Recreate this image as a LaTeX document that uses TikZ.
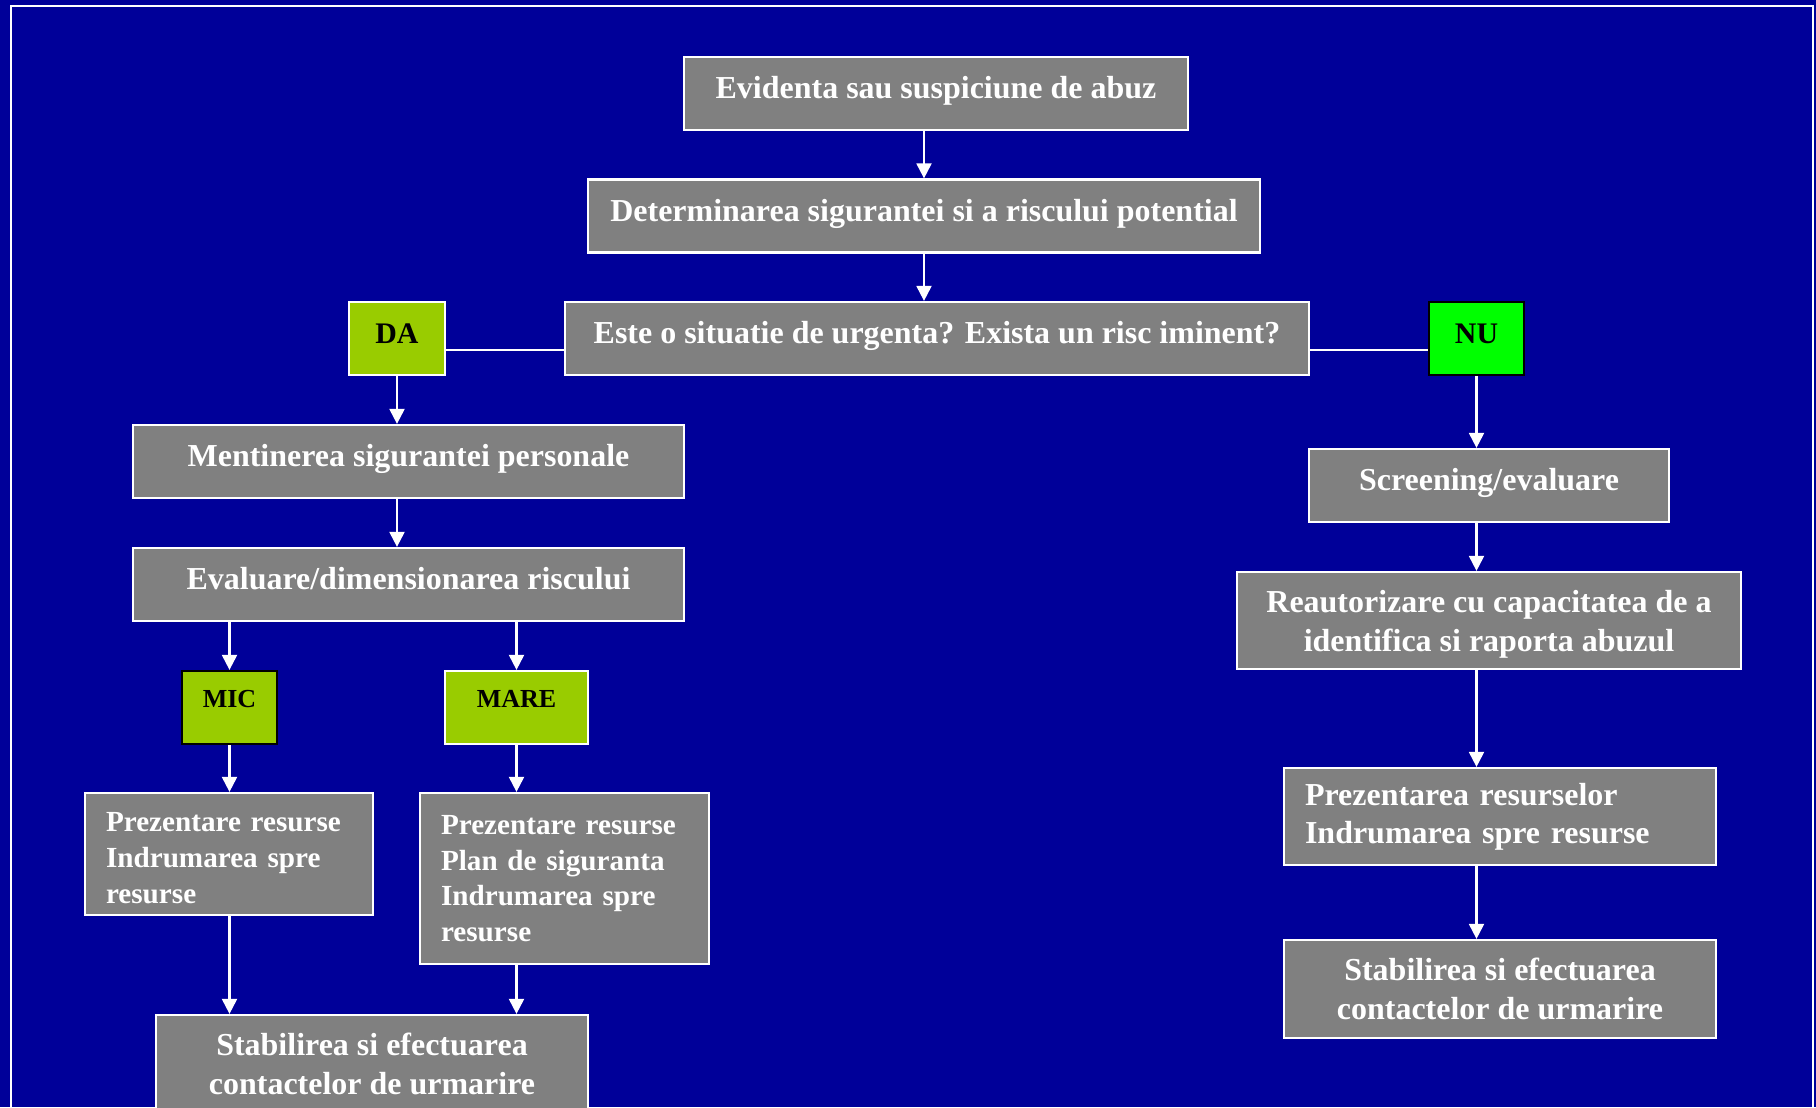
\documentclass[tikz,border=0pt]{standalone}
\usepackage{fontspec}
\setmainfont{Liberation Serif}
\usetikzlibrary{arrows.meta}
\definecolor{fundal}{HTML}{000099}
\definecolor{gri}{HTML}{808080}
\definecolor{verde}{HTML}{99CC00}
\definecolor{verdeviu}{HTML}{00FF00}

\begin{document}
\begin{tikzpicture}[x=0.02cm, y=-0.02cm,
  cutie/.style={draw=white, line width=1.3pt, fill=gri, text=white, inner sep=0pt,
    minimum height=1.46cm, align=center, font=\fontsize{18.2}{21.8}\selectfont\bfseries},
  unrand/.style={cutie, text height=12.3pt, text depth=6.5pt},
  lista/.style={cutie, align=left, inner xsep=0.42cm},
  raspuns/.style={draw=white, line width=1.3pt, fill=verde, text=black, inner sep=0pt,
    minimum height=1.46cm, font=\fontsize{14.8}{18}\selectfont\bfseries, text depth=0.36cm},
  sageata/.style={white, line width=1.2pt, -{Triangle[width=8.5pt,length=8.5pt]}},
  linie/.style={white, line width=1.2pt}]
   \useasboundingbox (0,0) rectangle (1816,1107);
   \clip (0,0) rectangle (1816,1107);
   \fill[fundal] (0,0) rectangle (1816,1107);
   \draw[white, line width=1.2pt] (11,6) rectangle (1813,1130);

   \node[unrand, minimum width=10.08cm] (evid) at (936,93.5) {Evidenta sau suspiciune de abuz};
   \node[unrand, minimum width=13.44cm] (determ) at (924,216) {Determinarea sigurantei si a riscului potential};
   \node[unrand, minimum width=14.88cm] (urgenta) at (937,338.5) {Este o situatie de urgenta? Exista un risc iminent?};
   \node[raspuns, minimum width=1.92cm, font=\fontsize{17}{20}\selectfont\bfseries, text depth=0.2cm] (da) at (397,338.5) {DA};
   \node[raspuns, fill=verdeviu, draw=black, minimum width=1.9cm, font=\fontsize{17}{20}\selectfont\bfseries, text depth=0.2cm] (nu) at (1476.5,338.5) {NU};

   % ramura DA
   \node[unrand, minimum width=11.02cm] (ment) at (408.5,461.5) {Mentinerea sigurantei personale};
   \node[unrand, minimum width=11.02cm] (eval) at (408.5,584.5) {Evaluare/dimensionarea riscului};
   \node[raspuns, draw=black, minimum width=1.9cm] (mic) at (229.5,707.5) {MIC};
   \node[raspuns, minimum width=2.86cm] (mare) at (516.5,707.5) {MARE};
   \node[lista, text width=4.92cm, minimum height=2.44cm, font=\fontsize{16.6}{20.3}\selectfont\bfseries] (prezmic) at (229,854) {\rule{0pt}{15.6pt}Prezentare~resurse\\Indrumarea~spre\\resurse};
   \node[lista, text width=4.94cm, minimum height=3.42cm, font=\fontsize{16.6}{20.3}\selectfont\bfseries] (prezmare) at (564.5,878.5) {Prezentare~resurse\\Plan~de~siguranta\\Indrumarea~spre\\resurse};
   \node[cutie, minimum width=8.64cm, minimum height=1.96cm] (stabmic) at (372,1064) {Stabilirea si efectuarea\\contactelor de urmarire};

   % ramura NU
   \node[unrand, minimum width=7.2cm] (screen) at (1489,485.5) {Screening/evaluare};
   \node[cutie, minimum width=10.08cm, minimum height=1.94cm] (reaut) at (1489,620.5) {\rule{0pt}{17pt}Reautorizare cu capacitatea de a\\identifica si raporta abuzul};
   \node[lista, text width=7.8cm, minimum height=1.94cm] (prezres) at (1500,816.5) {Prezentarea resurselor\\Indrumarea spre resurse};
   \node[cutie, minimum width=8.64cm, minimum height=1.96cm] (stabres) at (1500,989) {Stabilirea si efectuarea\\contactelor de urmarire};

   \draw[sageata] (evid.south -| determ.north) -- (determ.north);
   \draw[sageata] (determ.south) -- (determ.south |- urgenta.north);
   \draw[linie] ([yshift=-0.23cm]da.east) -- ([yshift=-0.23cm]urgenta.west);
   \draw[linie] ([yshift=-0.23cm]urgenta.east) -- ([yshift=-0.23cm]nu.west);
   \draw[sageata] (da.south) -- (da.south |- ment.north);
   \draw[sageata] (da.south |- ment.south) -- (da.south |- eval.north);
   \draw[sageata] (mic.north |- eval.south) -- (mic.north);
   \draw[sageata] (mare.north |- eval.south) -- (mare.north);
   \draw[sageata] (mic.south) -- (mic.south |- prezmic.north);
   \draw[sageata] (mare.south) -- (mare.south |- prezmare.north);
   \draw[sageata] (mic.south |- prezmic.south) -- (mic.south |- stabmic.north);
   \draw[sageata] (mare.south |- prezmare.south) -- (mare.south |- stabmic.north);
   \draw[sageata] (nu.south) -- (nu.south |- screen.north);
   \draw[sageata] (nu.south |- screen.south) -- (nu.south |- reaut.north);
   \draw[sageata] (nu.south |- reaut.south) -- (nu.south |- prezres.north);
   \draw[sageata] (nu.south |- prezres.south) -- (nu.south |- stabres.north);
  \end{tikzpicture}
\end{document}
